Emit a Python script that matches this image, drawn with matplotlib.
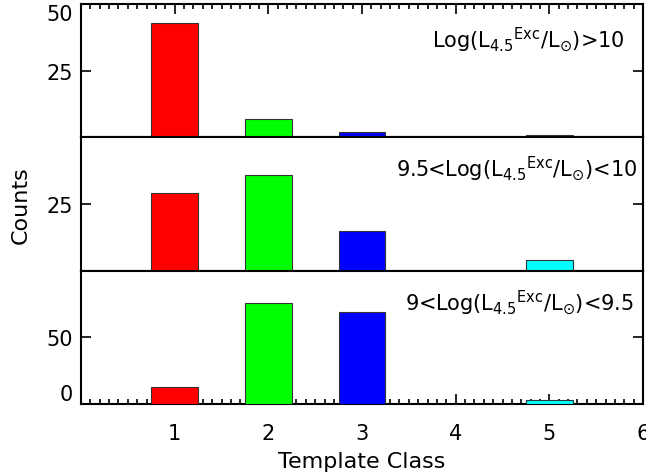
import matplotlib.pyplot as plt
from matplotlib.ticker import MultipleLocator

# Template class counts in three luminosity bins
classes = [1, 2, 3, 4, 5]
colors = ['#ff0000', '#00ff00', '#0000ff', '#ffff00', '#00ffff']
counts_high = [43, 7, 2, 0, 1]
counts_mid = [29, 36, 15, 0, 4]
counts_low = [13, 76, 69, 0, 3]

labels = [
    r'Log(L$_{4.5}$$^{\rm Exc}$/L$_{\odot}$)>10',
    r'9.5<Log(L$_{4.5}$$^{\rm Exc}$/L$_{\odot}$)<10',
    r'9<Log(L$_{4.5}$$^{\rm Exc}$/L$_{\odot}$)<9.5',
]
ylims = [50, 50, 100]
yticks = [[0, 25, 50], [0, 25], [0, 50]]
yticklabels = [['', '25', '50'], ['', '25'], ['0', '50']]
label_pos = [(0.968, 0.74), (0.989, 0.77), (0.984, 0.77)]

plt.rcParams['font.family'] = 'DejaVu Sans'
plt.rcParams['mathtext.fontset'] = 'dejavusans'

fig = plt.figure(figsize=(6.46, 4.77), dpi=100)
left, right = 81 / 646, 643 / 646
top, bottom = 1 - 5 / 477, 1 - 405 / 477
h = (top - bottom) / 3

for i, data in enumerate([counts_high, counts_mid, counts_low]):
    ax = fig.add_axes([left, top - (i + 1) * h, right - left, h])
    ax.bar(classes, data, width=0.5, color=colors, edgecolor='#333333', linewidth=0.8,
           zorder=2.6)
    ax.set_xlim(0, 6)
    ax.set_ylim(0, ylims[i])
    for s in ax.spines.values():
        s.set_linewidth(1.5)
    ax.xaxis.set_major_locator(MultipleLocator(1))
    ax.xaxis.set_minor_locator(MultipleLocator(0.1))
    ax.set_yticks(yticks[i])
    ax.set_yticklabels(yticklabels[i])
    ax.tick_params(axis='both', which='both', direction='in', width=1.2,
                   labelsize=15, colors='black')
    ax.tick_params(axis='y', which='major', length=7, left=True, right=True, pad=6)
    ax.tick_params(axis='x', which='major', length=7)
    ax.tick_params(axis='x', which='minor', length=3.5)
    ax.tick_params(axis='x', which='both', top=(i == 0), bottom=(i == 2))
    if i == 2:
        ax.set_xticks([1, 2, 3, 4, 5, 6])
        ax.tick_params(axis='x', pad=14)
    else:
        ax.set_xticklabels([])

    # keep the edge labels inside the panel
    ticks = ax.yaxis.get_major_ticks()
    if i == 0:
        ticks[-1].label1.set_va('top')
    if i == 2:
        ticks[0].label1.set_va('bottom')

    ax.text(label_pos[i][0], label_pos[i][1], labels[i], transform=ax.transAxes,
            ha='right', va='center', fontsize=15)

fig.text(0.032, 0.57, 'Counts', rotation=90, ha='center', va='center', fontsize=16)
fig.text((left + right) / 2, 1 - 462 / 477, 'Template Class', ha='center', va='center',
         fontsize=16)

fig.savefig('out.png', dpi=100)
